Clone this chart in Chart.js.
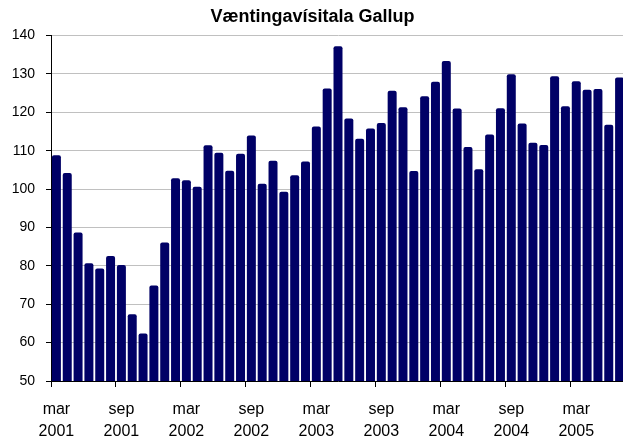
<!DOCTYPE html>
<html lang="is">
<head>
  <meta charset="UTF-8" />
  <title>Væntingavísitala Gallup</title>
  <script src="https://cdn.jsdelivr.net/npm/chart.js"></script>
  <style>
    html, body {
      margin: 0;
      padding: 0;
      background: #ffffff;
      overflow: hidden;
    }
    #wrap {
      width: 623px;
      height: 437px;
      overflow: hidden;
    }
  </style>
</head>
<body>
  <div id="wrap">
    <canvas id="chart" width="652" height="437"></canvas>
  </div>

  <script>
    // months, mar 2001 - júl 2005
    const categories = [
      'mar 2001', 'apr 2001', 'maí 2001', 'jún 2001', 'júl 2001', 'ágú 2001',
      'sep 2001', 'okt 2001', 'nóv 2001', 'des 2001', 'jan 2002', 'feb 2002',
      'mar 2002', 'apr 2002', 'maí 2002', 'jún 2002', 'júl 2002', 'ágú 2002',
      'sep 2002', 'okt 2002', 'nóv 2002', 'des 2002', 'jan 2003', 'feb 2003',
      'mar 2003', 'apr 2003', 'maí 2003', 'jún 2003', 'júl 2003', 'ágú 2003',
      'sep 2003', 'okt 2003', 'nóv 2003', 'des 2003', 'jan 2004', 'feb 2004',
      'mar 2004', 'apr 2004', 'maí 2004', 'jún 2004', 'júl 2004', 'ágú 2004',
      'sep 2004', 'okt 2004', 'nóv 2004', 'des 2004', 'jan 2005', 'feb 2005',
      'mar 2005', 'apr 2005', 'maí 2005', 'jún 2005', 'júl 2005'
    ];

    const indexValues = [
      108.8, 104.2, 88.7, 80.7, 79.3, 82.6,
      80.2, 67.4, 62.4, 74.9, 86.1, 102.8,
      102.3, 100.6, 111.4, 109.5, 104.8, 109.2,
      114.0, 101.4, 107.4, 99.3, 103.6, 107.2,
      116.3, 126.2, 137.2, 118.4, 113.1, 115.8,
      117.2, 125.6, 121.3, 104.7, 124.2, 128.0,
      133.4, 121.0, 111.0, 105.2, 114.2, 121.1,
      129.9, 117.1, 112.1, 111.5, 129.4, 121.6,
      128.1, 125.9, 126.1, 116.8, 129.1
    ];

    const yMin = 50;
    const yMax = 140;
    const yStep = 10;
    const labelEvery = 6;

    const font = "'Liberation Sans', Arial, sans-serif";

    const ctx = document.getElementById('chart').getContext('2d');

    new Chart(ctx, {
      type: 'bar',
      data: {
        labels: categories,
        datasets: [{
          label: 'Væntingavísitala Gallup',
          data: indexValues,
          backgroundColor: '#000066',
          borderWidth: 0,
          borderRadius: 2,
          categoryPercentage: 1.0,
          barPercentage: 0.83
        }]
      },
      options: {
        responsive: false,
        animation: false,
        layout: {
          padding: { left: 0, right: 27, top: 0, bottom: 0 }
        },
        plugins: {
          legend: { display: false },
          tooltip: { enabled: false },
          title: {
            display: true,
            text: 'Væntingavísitala Gallup',
            color: '#000000',
            font: { family: font, size: 18, weight: 'bold' },
            padding: { top: 6, bottom: 8 }
          }
        },
        scales: {
          x: {
            afterFit: (scale) => { scale.height = 56; },
            border: { color: '#000000', width: 1 },
            grid: {
              offset: true,
              drawOnChartArea: false,
              tickLength: 6,
              color: (c) => (c.index % labelEvery === 0 ? '#000000' : 'rgba(0,0,0,0)')
            },
            ticks: {
              autoSkip: false,
              maxRotation: 0,
              minRotation: 0,
              padding: 12,
              color: '#000000',
              font: { family: font, size: 16, lineHeight: 1.375 },
              callback: (val, i) => (i % labelEvery === 0 ? categories[i].split(' ') : '')
            }
          },
          y: {
            min: yMin,
            max: yMax,
            afterFit: (scale) => { scale.width = 51; },
            border: { color: '#000000', width: 1 },
            grid: {
              color: '#c0c0c0',
              tickColor: '#000000',
              tickLength: 5
            },
            ticks: {
              stepSize: yStep,
              padding: 11,
              color: '#000000',
              font: { family: font, size: 14 }
            }
          }
        }
      }
    });
  </script>
</body>
</html>
